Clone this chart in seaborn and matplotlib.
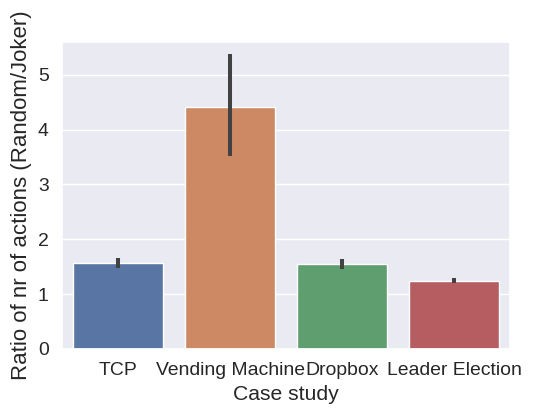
import matplotlib
matplotlib.use("Agg")
import matplotlib.pyplot as plt
import seaborn as sns
import pandas as pd

# values
cases = ["TCP", "Vending Machine", "Dropbox", "Leader Election"]
ratio_mean = [1.57, 4.42, 1.55, 1.24]
ratio_lo = [1.48, 3.52, 1.46, 1.20]
ratio_hi = [1.65, 5.38, 1.64, 1.30]

df = pd.DataFrame({"case": cases, "ratio": ratio_mean})

sns.set_theme(style="darkgrid", font_scale=1.27)
plt.rcParams["font.family"] = ["Liberation Sans", "DejaVu Sans"]

fig = plt.figure(figsize=(5.49, 4.08), dpi=100)
ax = fig.add_axes([0.113, 0.145, 0.816, 0.752])

sns.barplot(x="case", y="ratio", data=df, hue="case", palette="deep",
            errorbar=None, legend=False, ax=ax)
# confidence intervals
ax.vlines(range(len(cases)), ratio_lo, ratio_hi, color=".26", lw=2.9)

ax.set_xlim(-0.5, len(cases) - 0.5)
ax.set_ylim(0, 5.6)
ax.set_xlabel("Case study")
ax.set_ylabel("Ratio of nr of actions (Random/Joker)", fontsize=16)

fig.savefig("out.png", dpi=100)
